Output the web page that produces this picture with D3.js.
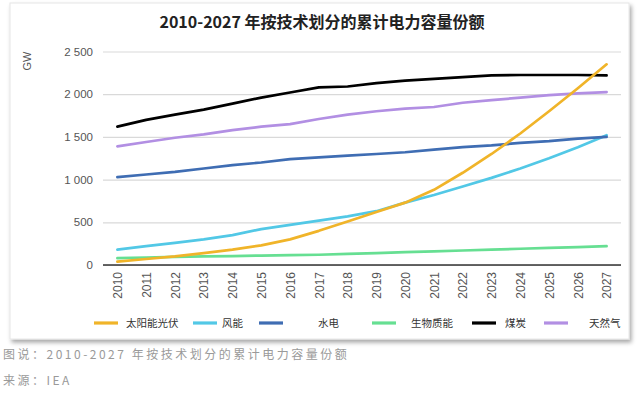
<!DOCTYPE html>
<html>
<head>
<meta charset="utf-8">
<script src="https://cdn.jsdelivr.net/npm/d3@7"></script>
<style>
  html, body { margin: 0; padding: 0; background: #fff; }
  #plot { width: 640px; height: 393px; }
  text { font-family: "Noto Sans CJK SC", "Noto Sans", sans-serif; }
</style>
</head>
<body>
<div id="plot"></div>
<script>
// data (GW)
const years = d3.range(2010, 2028).map(String);
const solar = [40, 70, 100, 140, 180, 230, 300, 400, 510, 620, 730, 880, 1080, 1300, 1540, 1800, 2070, 2350];
const wind = [180, 220, 260, 300, 350, 420, 470, 520, 570, 630, 730, 820, 920, 1020, 1130, 1250, 1380, 1520];
const hydro = [1030, 1060, 1090, 1130, 1170, 1200, 1240, 1260, 1280, 1300, 1320, 1350, 1380, 1400, 1430, 1450, 1480, 1500];
const bio = [80, 88, 94, 100, 105, 110, 115, 120, 130, 140, 150, 160, 170, 180, 190, 200, 210, 220];
const coal = [1620, 1700, 1760, 1820, 1890, 1960, 2020, 2080, 2090, 2130, 2160, 2180, 2200, 2220, 2225, 2225, 2225, 2220];
const gas = [1390, 1440, 1490, 1530, 1580, 1620, 1650, 1710, 1760, 1800, 1830, 1850, 1900, 1930, 1960, 1990, 2010, 2025];
const seriesNames = ["太阳能光伏", "风能", "水电", "生物质能", "煤炭", "天然气"];
const seriesColors = ["#f0b429", "#52c8e6", "#3f6db3", "#66df92", "#000000", "#b28fe3"];
const yTicks = [0, 500, 1000, 1500, 2000, 2500];

const allSeries = [solar, wind, hydro, bio, coal, gas];

const svg = d3.select("#plot")
    .append("svg")
    .attr("width", 640)
    .attr("height", 393);

// card with shadow
const defs = svg.append("defs");
const f = defs.append("filter").attr("id", "sh").attr("x", "-5%").attr("y", "-5%").attr("width", "110%").attr("height", "115%");
f.append("feDropShadow").attr("dx", 2).attr("dy", 3).attr("stdDeviation", 2).attr("flood-color", "#000").attr("flood-opacity", 0.35);

svg.append("rect")
    .attr("x", 10).attr("y", 3)
    .attr("width", 619).attr("height", 336)
    .attr("fill", "#fff")
    .attr("stroke", "#e6e6e6")
    .attr("filter", "url(#sh)");

// title
svg.append("text")
    .attr("x", 322).attr("y", 28)
    .attr("text-anchor", "middle")
    .style("font-size", "16px")
    .style("font-weight", "bold")
    .attr("fill", "#222")
    .text("2010-2027 年按技术划分的累计电力容量份额");

// scales
const x = d3.scalePoint()
    .domain(years)
    .range([103, 621])
    .padding(0.5);

const y = d3.scaleLinear()
    .domain([0, 2500])
    .range([265, 51.5]);

const fmt = v => d3.format(",")(v).replace(",", " ");

// grid + y labels
const yAxis = svg.append("g")
    .attr("transform", "translate(103,0)")
    .call(d3.axisLeft(y).tickValues(yTicks).tickSize(-518).tickFormat(fmt));
yAxis.select(".domain").remove();
yAxis.selectAll(".tick line").attr("stroke", "#d9d9d9").attr("stroke-width", 1.2);
yAxis.selectAll(".tick text")
    .attr("x", -10)
    .attr("fill", "#555")
    .style("font-size", "11.5px")
    .style("font-family", "'Liberation Sans', Arial, sans-serif");

svg.append("text")
    .attr("transform", "translate(31,61) rotate(-90)")
    .attr("text-anchor", "middle")
    .attr("fill", "#555")
    .style("font-size", "11px")
    .style("font-family", "'Liberation Sans', Arial, sans-serif")
    .text("GW");

// x axis
const xAxis = svg.append("g")
    .attr("transform", `translate(0,${y(0)})`)
    .call(d3.axisBottom(x).tickSize(0).tickSizeOuter(0));
xAxis.select(".domain").attr("stroke", "#333").attr("stroke-width", 1.5)
    .attr("d", "M103,0H621");
xAxis.selectAll(".tick text")
    .attr("transform", "rotate(-90)")
    .attr("text-anchor", "end")
    .attr("x", -7)
    .attr("y", 0)
    .attr("dy", "0.35em")
    .attr("fill", "#555")
    .style("font-size", "12px")
    .style("font-family", "'Liberation Sans', Arial, sans-serif");

// lines
const line = d3.line()
    .x((d, i) => x(years[i]))
    .y(d => y(d));

const drawOrder = [3, 1, 2, 5, 4, 0];
svg.append("g")
    .selectAll("path")
    .data(drawOrder.map(i => ({vals: allSeries[i], i})))
    .join("path")
    .attr("d", d => line(d.vals))
    .attr("fill", "none")
    .attr("stroke", d => seriesColors[d.i])
    .attr("stroke-width", 2.7)
    .attr("stroke-linejoin", "round")
    .attr("stroke-linecap", "round");

// legend
const legendLine = [94, 193, 259, 372, 472, 544];
const legendText = [126, 222, 318, 411, 505, 589];
const lg = svg.append("g");
seriesNames.forEach((name, i) => {
    lg.append("line")
        .attr("x1", legendLine[i]).attr("x2", legendLine[i] + 24)
        .attr("y1", 323).attr("y2", 323)
        .attr("stroke", seriesColors[i])
        .attr("stroke-width", 3.2);
    lg.append("text")
        .attr("x", legendText[i]).attr("y", 327)
        .attr("fill", "#333")
        .style("font-size", "10.5px")
        .text(name);
});

// caption
svg.append("text")
    .attr("x", 3).attr("y", 359)
    .attr("fill", "#9a9a9a")
    .style("font-size", "12px")
    .style("letter-spacing", "2.5px")
    .text("图说：2010-2027 年按技术划分的累计电力容量份额");

svg.append("text")
    .attr("x", 3).attr("y", 385)
    .attr("fill", "#9a9a9a")
    .style("font-size", "12px")
    .style("letter-spacing", "2.5px")
    .text("来源：IEA");
</script>
</body>
</html>
